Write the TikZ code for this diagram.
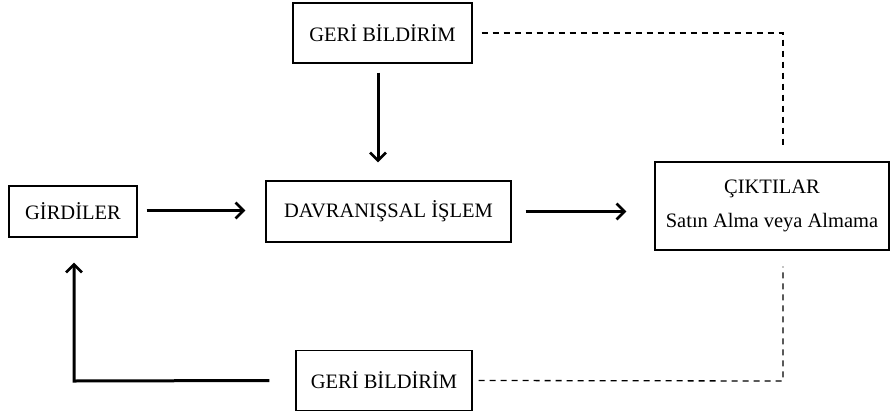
\documentclass[tikz,border=0pt]{standalone}
\usepackage{fontspec}
\setmainfont{Liberation Serif}
\usetikzlibrary{arrows.meta}
\begin{document}
\begin{tikzpicture}[x=1pt,y=-1pt,
  box/.style={draw,line width=1.3pt,inner sep=0pt,font=\fontsize{20.5}{24}\selectfont,align=center},
  arr/.style={line width=3pt,-{Straight Barb[length=8pt,width=16pt,line width=2.6pt]}},
  fb/.style={line width=3pt},
  dashline/.style={line width=1.3pt,dash pattern=on 6pt off 5pt}]
\useasboundingbox (0,0) rectangle (890,412);
\node[box,minimum width=179pt,minimum height=60pt] (gtop) at (382.5,33) {GERİ BİLDİRİM};
\node[box,minimum width=245pt,minimum height=61pt] (dav) at (388.5,211.5) {DAVRANIŞSAL İŞLEM};
\node[box,minimum width=128pt,minimum height=51pt] (gir) at (73,211.5) {GİRDİLER};
\node[box,minimum width=234pt,minimum height=88pt] (cik) at (772,206) {ÇIKTILAR\\[10pt]Satın Alma veya Almama};
\node[box,minimum width=176pt,minimum height=60pt] (gbot) at (384,380.5) {GERİ BİLDİRİM};
\coordinate (c1) at (783,33);
\coordinate (c2) at (783,381);
\coordinate (c3) at (74,381);
\draw[arr] ([yshift=-9pt]gtop.south -| 378,0) -- ([yshift=18pt]dav.north -| 378,0);
\draw[arr] ([xshift=9pt,yshift=1pt]gir.east) -- ([xshift=-20pt,yshift=1pt]dav.west);
\draw[arr] ([xshift=14pt]dav.east) -- ([xshift=-28pt]cik.west |- dav.east);
\draw[fb,-{Straight Barb[length=8pt,width=16pt,line width=2.6pt]}] ([xshift=-26pt]gbot.west) -- (c3) -- ([yshift=-25pt]gir.south -| c3);
\draw[dashline] ([xshift=9pt]gtop.east) -- (c1) -- ([yshift=12pt]cik.north -| c1);
\draw[dashline] ([xshift=6pt]gbot.east) -- (c2) -- ([yshift=-16pt]cik.south -| c2);
\end{tikzpicture}
\end{document}
